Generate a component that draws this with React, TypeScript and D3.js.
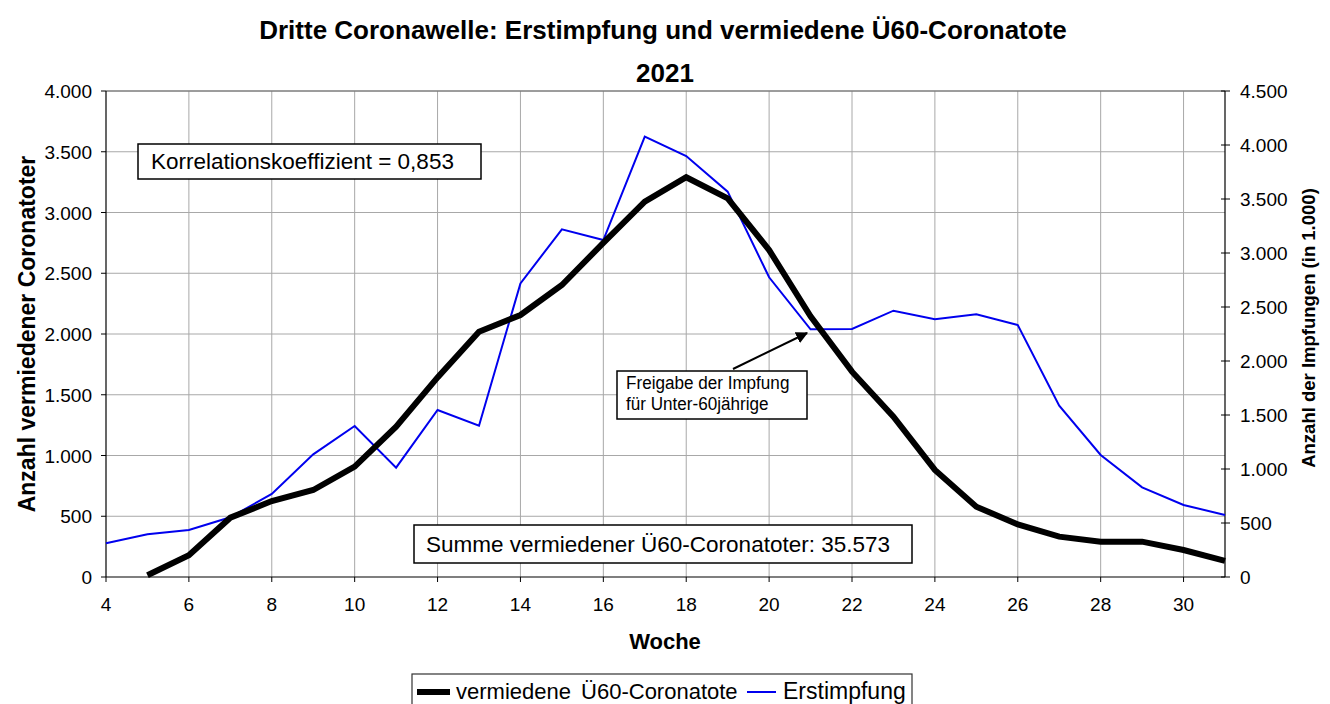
import React from 'react'
import * as d3 from 'd3'

const weeksBlack = [5, 6, 7, 8, 9, 10, 11, 12, 13, 14, 15, 16, 17, 18, 19, 20, 21, 22, 23, 24, 25, 26, 27, 28, 29, 30, 31]
const vermiedene = [15, 180, 488, 625, 716, 908, 1237, 1643, 2019, 2156, 2403, 2750, 3089, 3290, 3117, 2691, 2145, 1690, 1320, 881, 579, 433, 332, 291, 291, 222, 132]

const weeksBlue = [4, 5, 6, 7, 8, 9, 10, 11, 12, 13, 14, 15, 16, 17, 18, 19, 20, 21, 22, 23, 24, 25, 26, 27, 28, 29, 30, 31]
const erstimpfung = [312, 395, 435, 553, 769, 1136, 1398, 1012, 1546, 1401, 2719, 3219, 3120, 4077, 3898, 3568, 2775, 2293, 2296, 2466, 2386, 2432, 2333, 1586, 1130, 830, 667, 574]

const xTicks = [4, 6, 8, 10, 12, 14, 16, 18, 20, 22, 24, 26, 28, 30]
const leftTicks = [0, 500, 1000, 1500, 2000, 2500, 3000, 3500, 4000]
const rightTicks = [0, 500, 1000, 1500, 2000, 2500, 3000, 3500, 4000, 4500]

const W = 1330
const H = 704
const font = 'Liberation Sans, Arial, sans-serif'

const de = d3.formatLocale({ decimal: ',', thousands: '.', grouping: [3], currency: ['', '€'] })
const fmt = de.format(',d')

export default function App() {
  const left = 106, right = 1225, top = 91, bottom = 577
  const x = d3.scaleLinear().domain([4, 31]).range([left, right])
  const yL = d3.scaleLinear().domain([0, 4000]).range([bottom, top])
  const yR = d3.scaleLinear().domain([0, 4500]).range([bottom, top])

  const blackLine = d3.line<number>().x((d, i) => x(weeksBlack[i])).y(d => yL(d))(vermiedene) || ''
  const blueLine = d3.line<number>().x((d, i) => x(weeksBlue[i])).y(d => yR(d))(erstimpfung) || ''

  // arrow for annotation
  const ax1 = 733, ay1 = 369, ax2 = 807, ay2 = 333

  return (
    <svg width={W} height={H} style={{ position: 'absolute', left: 0, top: 0, background: '#fff' }}>
      <defs>
        <marker id="arr" viewBox="0 0 10 10" refX="9" refY="5" markerWidth="6" markerHeight="6" orient="auto">
          <path d="M0,0 L10,5 L0,10 z" fill="#000" />
        </marker>
      </defs>
      <rect width={W} height={H} fill="#fff" />

      {/* gridlines */}
      {leftTicks.slice(1).map(t => (
        <line key={'h' + t} x1={left} x2={right} y1={yL(t)} y2={yL(t)} stroke="#a8a8a8" strokeWidth={1} />
      ))}
      {xTicks.slice(1).map(t => (
        <line key={'v' + t} x1={x(t)} x2={x(t)} y1={top} y2={bottom} stroke="#a8a8a8" strokeWidth={1} />
      ))}
      <line x1={left} x2={right} y1={top} y2={top} stroke="#666" strokeWidth={1} />

      {/* axes */}
      <line x1={left} x2={left} y1={top} y2={bottom} stroke="#000" strokeWidth={1.2} />
      <line x1={right} x2={right} y1={top} y2={bottom} stroke="#000" strokeWidth={1.2} />
      <line x1={left} x2={right} y1={bottom} y2={bottom} stroke="#000" strokeWidth={1.2} />

      {leftTicks.map(t => (
        <g key={'l' + t}>
          <line x1={left - 5} x2={left} y1={yL(t)} y2={yL(t)} stroke="#000" />
          <text x={92} y={yL(t) + 7} textAnchor="end" fontFamily={font} fontSize={19}>{fmt(t)}</text>
        </g>
      ))}
      {rightTicks.map(t => (
        <g key={'r' + t}>
          <line x1={right - 4} x2={right + 5} y1={yR(t)} y2={yR(t)} stroke="#000" />
          <text x={1240} y={yR(t) + 7} textAnchor="start" fontFamily={font} fontSize={19}>{fmt(t)}</text>
        </g>
      ))}
      {xTicks.map(t => (
        <g key={'x' + t}>
          <line x1={x(t)} x2={x(t)} y1={bottom} y2={bottom + 5} stroke="#000" />
          <text x={x(t)} y={611} textAnchor="middle" fontFamily={font} fontSize={19}>{t}</text>
        </g>
      ))}

      {/* series */}
      <path d={blueLine} fill="none" stroke="#0000ee" strokeWidth={2} strokeLinejoin="miter" />
      <path d={blackLine} fill="none" stroke="#000" strokeWidth={6} strokeLinejoin="miter" />

      {/* titles */}
      <text x={663} y={39} textAnchor="middle" fontFamily={font} fontSize={26} fontWeight="bold">
        Dritte Coronawelle: Erstimpfung und vermiedene Ü60-Coronatote
      </text>
      <text x={665} y={82} textAnchor="middle" fontFamily={font} fontSize={26} fontWeight="bold">2021</text>
      <text x={665} y={649} textAnchor="middle" fontFamily={font} fontSize={22} fontWeight="bold">Woche</text>
      <text transform={`translate(35,${(top + bottom) / 2}) rotate(-90)`} textAnchor="middle" fontFamily={font} fontSize={23} fontWeight="bold">
        Anzahl vermiedener Coronatoter
      </text>
      <text transform={`translate(1315,${(top + bottom) / 2 - 6}) rotate(-90)`} textAnchor="middle" fontFamily={font} fontSize={18.5} fontWeight="bold">
        Anzahl der Impfungen (in 1.000)
      </text>

      {/* annotation boxes */}
      <rect x={138} y={144} width={343} height={35} fill="#fff" stroke="#000" strokeWidth={1.5} />
      <text x={151} y={169} fontFamily={font} fontSize={22.5}>Korrelationskoeffizient = 0,853</text>

      <rect x={414} y={525} width={498} height={38} fill="#fff" stroke="#000" strokeWidth={1.5} />
      <text x={426} y={552} fontFamily={font} fontSize={22.5}>Summe vermiedener Ü60-Coronatoter: 35.573</text>

      <line x1={ax1} y1={ay1} x2={ax2} y2={ay2} stroke="#000" strokeWidth={2} markerEnd="url(#arr)" />
      <rect x={617} y={371} width={190} height={48} fill="#fff" stroke="#000" strokeWidth={1.5} />
      <text transform="translate(626,389) scale(0.9,1)" fontFamily={font} fontSize={19}>Freigabe der Impfung</text>
      <text transform="translate(626,410) scale(0.9,1)" fontFamily={font} fontSize={19}>für Unter-60jährige</text>

      {/* legend */}
      <rect x={412} y={674} width={500} height={40} fill="#fff" stroke="#333" strokeWidth={1.2} />
      <line x1={417} x2={450} y1={692} y2={692} stroke="#000" strokeWidth={6} />
      <text x={456} y={699} fontFamily={font} fontSize={22}>
        vermiedene<tspan dx={4}> Ü60-Coronatote</tspan>
      </text>
      <line x1={747} x2={776} y1={692} y2={692} stroke="#0000ee" strokeWidth={2} />
      <text x={783} y={699} fontFamily={font} fontSize={23}>Erstimpfung</text>
    </svg>
  )
}
